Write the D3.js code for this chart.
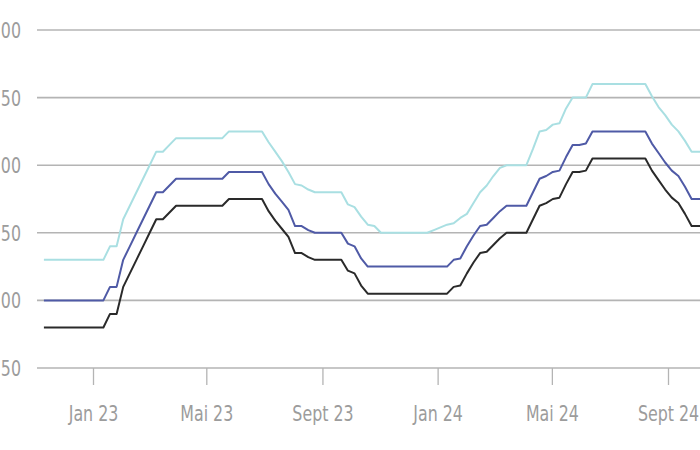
<!DOCTYPE html>
<html>
<head>
<meta charset="utf-8">
<script src="https://cdn.jsdelivr.net/npm/d3@7"></script>
<style>
  html, body { margin: 0; padding: 0; background: #fff; overflow: hidden; }
  svg { display: block; }
  text { font-family: "DejaVu Sans Condensed", "DejaVu Sans", sans-serif; fill: #9c9c9c; }
</style>
</head>
<body>
<svg id="chart" width="700" height="450"></svg>
<script>
// Weekly observations, first week starting 2022-11-10
const firstWeek = "2022-11-10";

const seriesBlack = [
  80, 80, 80, 80, 80, 80, 80, 80, 80, 80,
  90, 90,
  110, 120, 130, 140, 150, 160, 160, 165, 170,
  170, 170, 170, 170, 170, 170, 170,
  175, 175, 175, 175, 175, 175,
  166, 159, 153, 147, 135, 135, 132, 130,
  130, 130, 130, 130,
  122, 120, 111, 105,
  105, 105, 105, 105, 105, 105, 105, 105, 105, 105, 105, 105,
  110, 111, 120, 128, 135, 136, 141, 146, 150,
  150, 150, 150,
  160, 170, 172, 175, 176, 186, 195, 195, 196, 205,
  205, 205, 205, 205, 205, 205, 205, 205,
  196, 189, 182, 176, 172, 164, 155, 155, 155
];

const seriesBlue = [
  100, 100, 100, 100, 100, 100, 100, 100, 100, 100,
  110, 110,
  130, 140, 150, 160, 170, 180, 180, 185, 190,
  190, 190, 190, 190, 190, 190, 190,
  195, 195, 195, 195, 195, 195,
  186, 179, 173, 167, 155, 155, 152, 150,
  150, 150, 150, 150,
  142, 140, 131, 125,
  125, 125, 125, 125, 125, 125, 125, 125, 125, 125, 125, 125,
  130, 131, 140, 148, 155, 156, 161, 166, 170,
  170, 170, 170,
  180, 190, 192, 195, 196, 206, 215, 215, 216, 225,
  225, 225, 225, 225, 225, 225, 225, 225,
  216, 209, 202, 196, 192, 184, 175, 175, 175
];

const seriesCyan = [
  130, 130, 130, 130, 130, 130, 130, 130, 130, 130,
  140, 140,
  160, 170, 180, 190, 200, 210, 210, 215, 220,
  220, 220, 220, 220, 220, 220, 220,
  225, 225, 225, 225, 225, 225,
  217, 210, 203, 195, 186, 185, 182, 180,
  180, 180, 180, 180,
  171, 169, 162, 156,
  155, 150, 150, 150, 150, 150, 150, 150, 150, 152, 154, 156,
  157, 161, 164, 172, 180, 185, 192, 198, 200,
  200, 200, 200,
  212, 225, 226, 230, 231, 242, 250, 250, 250, 260,
  260, 260, 260, 260, 260, 260, 260, 260,
  251, 243, 237, 230, 225, 218, 210, 210, 210
];

const yTicks = [50, 100, 150, 200, 250, 300];
// the reference shows only the last two digits of each axis label (cropped at the left edge)
const yTickLabels = ["50", "00", "50", "00", "50", "00"];
const xTickDates = ["2023-01-01", "2023-05-01", "2023-09-01", "2024-01-01", "2024-05-01", "2024-09-01"];
const xTickLabels = ["Jan 23", "Mai 23", "Sept 23", "Jan 24", "Mai 24", "Sept 24"];

const parse = d3.timeParse("%Y-%m-%d");
const start = parse(firstWeek);
const dates = seriesBlack.map((_, i) => d3.timeDay.offset(start, 7 * i));

const svg = d3.select("#chart");

const x = d3.scaleTime()
  .domain([parse("2023-01-01"), parse("2024-09-01")])
  .range([93, 668]);

const y = d3.scaleLinear()
  .domain([50, 300])
  .range([368, 30]);

const FS = "22px";
const SQUEEZE = "scale(0.8,1)";

// gridlines
svg.append("g")
  .selectAll("line")
  .data(yTicks)
  .join("line")
  .attr("x1", 37).attr("x2", 700)
  .attr("y1", d => y(d)).attr("y2", d => y(d))
  .attr("stroke", "#b4b4b4")
  .attr("stroke-width", 1.6);

// y labels
svg.append("g")
  .selectAll("g")
  .data(yTicks)
  .join("g")
  .attr("transform", d => `translate(21,${y(d)})`)
  .append("text")
  .attr("transform", SQUEEZE)
  .attr("dy", "0.36em")
  .attr("text-anchor", "end")
  .style("font-size", FS)
  .text((d, i) => yTickLabels[i]);

// x axis
const xAxis = d3.axisBottom(x)
  .tickValues(xTickDates.map(parse))
  .tickFormat((d, i) => xTickLabels[i])
  .tickSize(17)
  .tickPadding(20);

const gx = svg.append("g")
  .attr("transform", `translate(0,${y(50)})`)
  .call(xAxis);
gx.select(".domain").remove();
gx.selectAll(".tick line").attr("stroke", "#b4b4b4").attr("stroke-width", 1.3);
gx.selectAll(".tick text")
  .attr("fill", "#9c9c9c")
  .attr("transform", SQUEEZE)
  .style("font-size", FS)
  .style("font-family", "'DejaVu Sans Condensed', 'DejaVu Sans', sans-serif");

const line = d3.line()
  .x((d, i) => x(dates[i]))
  .y(d => y(d));

const series = [
  { values: seriesCyan, color: "#a9dfe2" },
  { values: seriesBlue, color: "#4f5aa6" },
  { values: seriesBlack, color: "#2a2a2a" }
];

svg.append("g")
  .selectAll("path")
  .data(series)
  .join("path")
  .attr("d", d => line(d.values))
  .attr("fill", "none")
  .attr("stroke", d => d.color)
  .attr("stroke-width", 2)
  .attr("stroke-linejoin", "round");
</script>
</body>
</html>
